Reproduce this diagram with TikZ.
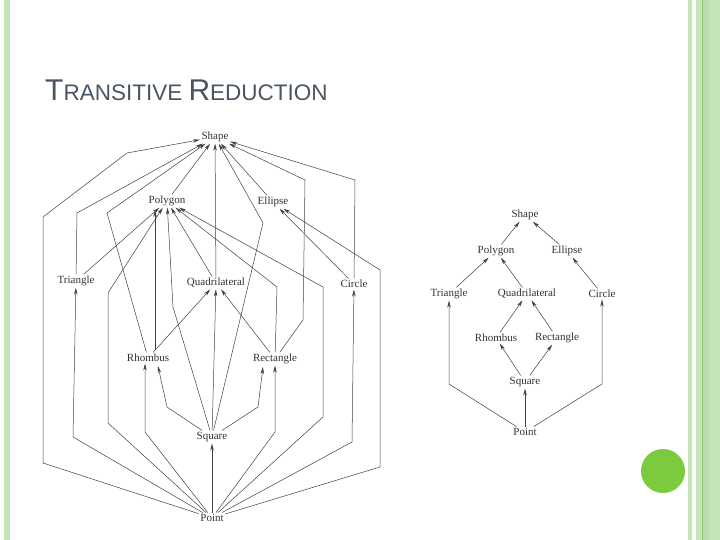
\documentclass[tikz,border=0pt]{standalone}
\usepackage{fontspec}
\setmainfont{Liberation Serif}
\newfontfamily\titlefont{Liberation Sans}
\usetikzlibrary{arrows.meta}
\definecolor{lg}{HTML}{C5E4B8}
\definecolor{dg}{HTML}{8CC476}
\definecolor{ball}{HTML}{7CCB3E}
\definecolor{ttl}{HTML}{4A5563}
\begin{document}
\begin{tikzpicture}[x=1pt,y=-1pt,
  nd/.style={inner sep=1.5pt,font=\fontsize{11}{12}\selectfont,text=black!80},
  ar/.style={draw=black!75,line width=0.5pt,-{Stealth[length=7pt,width=3.5pt]}}]
\useasboundingbox (0,0) rectangle (720,540);
\fill[white] (0,0) rectangle (720,540);
% slide decorations
\fill[lg] (4,0) rectangle (10,540);
\fill[lg] (688,0) rectangle (692,540);
\fill[lg] (696,0) rectangle (720,540);
\fill[dg] (702,0) rectangle (703,540);
\fill[lg!80!dg] (703,0) rectangle (709,540);
\fill[ball] (663,471) circle (22);
\node[anchor=base west,inner sep=0,text=ttl] (title) at (45,101) {\titlefont\fontsize{30}{30}\selectfont T\fontsize{22.5}{22}\selectfont RANSITIVE \fontsize{30}{30}\selectfont R\fontsize{22.5}{22}\selectfont EDUCTION};
% left diagram
\node[nd] (Sh) at (215,137) {Shape};
\node[nd] (Po) at (167,201) {Polygon};
\node[nd] (El) at (273,202) {Ellipse};
\node[nd] (Tr) at (76,281) {Triangle};
\node[nd] (Qu) at (216,283) {Quadrilateral};
\node[nd] (Ci) at (354,284) {Circle};
\node[nd] (Rh) at (148,358) {Rhombus};
\node[nd] (Re) at (275,359) {Rectangle};
\node[nd] (Sq) at (212,437) {Square};
\node[nd] (Pt) at (212,518) {Point};
\coordinate (a1) at (43,463); \coordinate (a2) at (43,217); \coordinate (a3) at (127,153);
\draw[ar] (Pt) -- (a1) -- (a2) -- (a3) -- (Sh);
\coordinate (b1) at (77,213);
\draw[ar] (Tr) -- (b1) -- (Sh);
\coordinate (c1) at (107,213);
\draw[ar] (Rh) -- (c1) -- (Sh);
\draw[ar] (Po) -- (Sh);
\draw[ar] (Qu) -- (Sh);
\coordinate (d1) at (263,223);
\draw[ar] (Sq) -- (d1) -- (Sh);
\draw[ar] (El) -- (Sh);
\coordinate (e1) at (303,320); \coordinate (e2) at (305,180);
\draw[ar] (Re) -- (e1) -- (e2) -- (Sh);
\coordinate (f1) at (355,180);
\draw[ar] (Ci) -- (f1) -- (Sh);
% into Polygon
\draw[ar] (Tr) -- (Po);
\coordinate (g1) at (108,423); \coordinate (g2) at (108,293);
\draw[ar] (Pt) -- (g1) -- (g2) -- (Po);
\coordinate (rt) at (155,350);
\draw[ar] (rt) -- (155,210);
\coordinate (h1) at (173,307);
\draw[ar] (Sq) -- (h1) -- (Po);
\draw[ar] (Qu) -- (Po);
\coordinate (i1) at (277,287);
\draw[ar] (Re) -- (i1) -- (Po);
\coordinate (j1) at (323,417); \coordinate (j2) at (323,287);
\draw[ar] (Pt) -- (j1) -- (j2) -- (Po);
% into Ellipse
\draw[ar] (Ci) -- (El);
\coordinate (k1) at (380,467); \coordinate (k2) at (380,270);
\draw[ar] (Pt) -- (k1) -- (k2) -- (El);
% into Quadrilateral
\draw[ar] (Rh) -- (Qu);
\draw[ar] (Sq) -- (Qu);
\draw[ar] (Re) -- (Qu);
% into Circle, Triangle
\coordinate (l1) at (352,442);
\draw[ar] (Pt) -- (l1) -- (Ci);
\coordinate (m1) at (73,437);
\draw[ar] (Pt) -- (m1) -- (Tr);
% into Rhombus
\coordinate (n1) at (145,432);
\draw[ar] (Pt) -- (n1) -- (n1 |- Rh.south);
\coordinate (o1) at (167,407);
\draw[ar] (Sq) -- (o1) -- (158,366);
% into Rectangle
\coordinate (p1) at (258,407);
\draw[ar] (Sq) -- (p1) -- (263,367);
\coordinate (q1) at (275,432);
\draw[ar] (Pt) -- (q1) -- (q1 |- Re.south);
\draw[ar] (Pt) -- (Sq);
% right diagram
\node[nd] (S2) at (525,215) {Shape};
\node[nd] (P2) at (496,251) {Polygon};
\node[nd] (E2) at (567,251) {Ellipse};
\node[nd] (T2) at (449,294) {Triangle};
\node[nd] (Q2) at (527,294) {Quadrilateral};
\node[nd] (C2) at (602,294) {Circle};
\node[nd] (R2) at (496,338) {Rhombus};
\node[nd] (X2) at (557,338) {Rectangle};
\node[nd] (Q3) at (525,382) {Square};
\node[nd] (O2) at (525,432) {Point};
\draw[ar] (P2) -- (S2);
\draw[ar] (E2) -- (S2);
\draw[ar] (T2) -- (P2);
\draw[ar] (Q2) -- (P2);
\draw[ar] (C2) -- (E2);
\draw[ar] (R2) -- (Q2);
\draw[ar] (X2) -- (Q2);
\draw[ar] (Q3) -- (R2);
\draw[ar] (Q3) -- (X2);
\draw[ar] (O2) -- (Q3);
\coordinate (r1) at (449,384);
\draw[ar] (O2) -- (r1) -- (T2);
\coordinate (s1) at (602,384);
\draw[ar] (O2) -- (s1) -- (C2);
\end{tikzpicture}
\end{document}
